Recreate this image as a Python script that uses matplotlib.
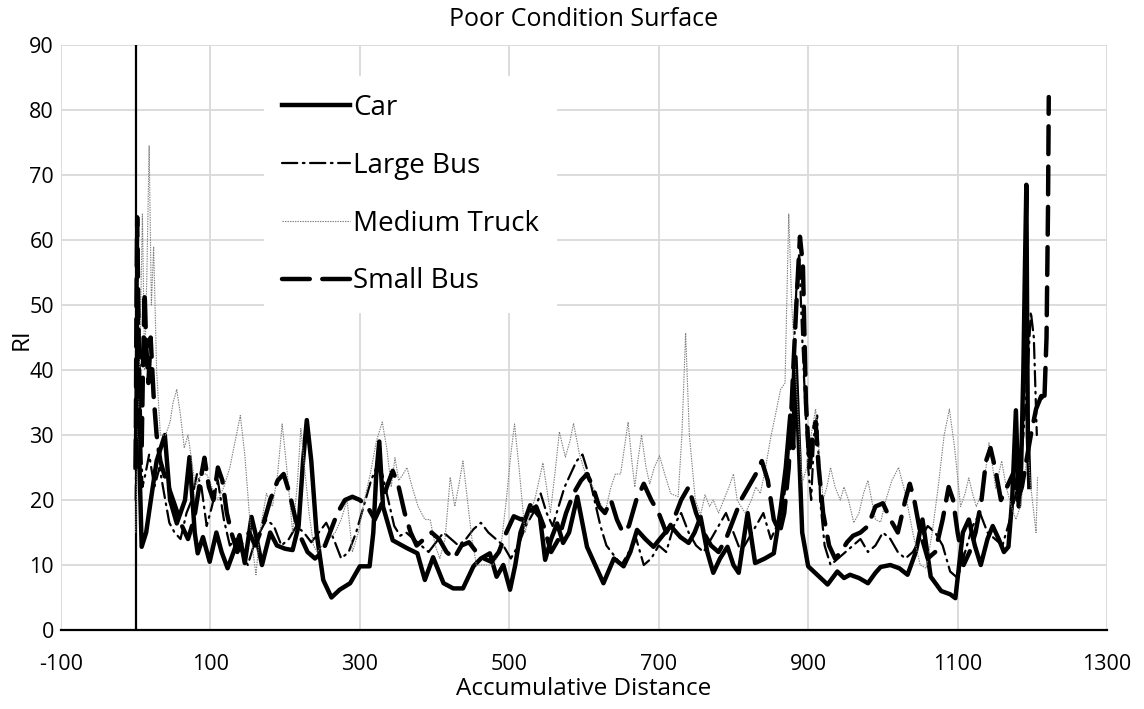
import matplotlib.pyplot as plt

plt.rcParams['font.family'] = ['Open Sans', 'DejaVu Sans']
plt.rcParams['lines.scale_dashes'] = False
plt.rcParams['axes.unicode_minus'] = False

# series (accumulative distance, RI)
car_x = [0, 2, 4, 8, 14, 19, 28, 39, 46, 55,
         66, 72, 79, 83, 90, 99, 108, 115, 123, 131,
         139, 146, 155, 162, 169, 180, 189, 200, 210, 218,
         224, 229, 235, 242, 251, 262, 273, 287, 300, 313,
         318, 322, 326, 331, 344, 363, 377, 387, 398, 405,
         412, 425, 438, 452, 462, 474, 483, 492, 501, 508,
         515, 528, 541, 548, 556, 564, 572, 580, 591, 604,
         615, 626, 640, 653, 662, 671, 682, 693, 705, 716,
         729, 740, 748, 756, 765, 773, 782, 792, 800, 807,
         819, 829, 842, 854, 863, 870, 876, 880, 883, 887,
         892, 900, 912, 926, 939, 948, 956, 968, 980, 990,
         997, 1010, 1022, 1033, 1044, 1053, 1064, 1078, 1090, 1097,
         1107, 1115, 1123, 1131, 1140, 1147, 1155, 1162, 1168, 1173,
         1178, 1182, 1185, 1188, 1190, 1192, 1194, 1196]
car_y = [25, 43, 30, 12.8, 15, 19, 26, 30, 20, 16.4,
         20, 26.6, 15, 11.8, 14.3, 10.5, 15, 12, 9.5, 12,
         14.6, 10.3, 17.4, 14, 10, 15, 13, 12.5, 12.3, 16,
         26, 32.3, 26, 15, 7.7, 5, 6.2, 7.2, 9.8, 9.8,
         15, 24, 29, 19, 13.8, 12.6, 11.8, 7.7, 11.2, 9.2,
         7.2, 6.4, 6.4, 9.8, 11, 11.8, 8.2, 10, 6.2, 10,
         15, 19.2, 17.4, 10.8, 14, 16.4, 13.4, 15, 20.5, 12.8,
         10, 7.2, 11, 9.8, 12, 15.4, 14, 12.8, 14.5, 16,
         14.3, 13.4, 15, 17.4, 12, 8.8, 11, 12.8, 10, 8.8,
         18, 10.3, 11, 11.8, 18.5, 25, 33, 28, 42, 30,
         15, 9.8, 8.5, 7, 9, 8, 8.5, 8, 7.2, 8.8,
         9.7, 10, 9.5, 8.5, 12, 17, 8.2, 6, 5.5, 4.9,
         15, 17, 13, 10, 14, 16, 14, 12, 12.8, 20,
         33.8, 19, 25, 40, 55, 68.5, 30, 22]

lbus_x = [0, 2, 4, 6, 9, 13, 18, 25, 32, 38,
          45, 52, 60, 68, 75, 82, 88, 95, 102, 110,
          118, 126, 134, 142, 150, 158, 166, 175, 185, 195,
          205, 215, 225, 235, 245, 255, 265, 275, 285, 295,
          305, 315, 322, 330, 338, 346, 354, 362, 372, 382,
          392, 402, 412, 422, 432, 442, 452, 462, 472, 482,
          492, 502, 512, 522, 532, 542, 550, 558, 566, 574,
          582, 590, 598, 606, 614, 622, 630, 640, 650, 660,
          670, 680, 690, 700, 710, 720, 730, 740, 750, 760,
          770, 780, 790, 800, 810, 820, 830, 840, 850, 858,
          866, 872, 878, 884, 888, 892, 896, 900, 904, 908,
          912, 916, 922, 930, 940, 950, 960, 970, 980, 990,
          1000, 1010, 1020, 1030, 1040, 1050, 1060, 1070, 1080, 1090,
          1100, 1110, 1120, 1130, 1140, 1150, 1160, 1170, 1180, 1188,
          1194, 1198, 1202, 1206]
lbus_y = [20, 40, 52, 35, 22, 24, 27, 22, 25, 21,
          16.5, 15, 14, 18, 20, 24, 22, 16, 19, 23,
          17, 13, 14, 12, 10, 13, 15, 17, 16, 13,
          14, 16, 15, 13.5, 15, 16.5, 14, 11, 12, 15,
          19, 23, 25, 24, 20, 16, 14.5, 15, 14, 13,
          12, 13.5, 15, 14, 13, 14, 15.5, 16.5, 15, 14,
          13, 11, 13, 16, 18, 21, 18, 16, 19, 22,
          24, 26, 27, 24, 20, 16, 13, 11.5, 10, 12,
          14, 10, 11, 13, 12, 16, 18, 15, 13, 12,
          14, 16, 18, 15, 12, 14, 16, 18, 14, 16,
          19, 24, 35, 52, 58, 45, 35, 25, 20, 30,
          33, 20, 13, 10, 11, 12, 13, 14, 12, 13,
          15, 14, 12, 11, 12, 14, 16, 15, 13, 9,
          8, 12, 16, 18, 15, 14, 13, 17, 22, 30,
          40, 49, 45, 30]

truck_x = [0, 3, 6, 9, 12, 15, 18, 21, 24, 28,
           33, 40, 46, 50, 55, 60, 65, 70, 75, 80,
           88, 95, 102, 110, 118, 126, 133, 140, 146, 152,
           157, 161, 166, 175, 183, 190, 196, 203, 210, 216,
           221, 226, 232, 238, 243, 250, 258, 267, 275, 283,
           290, 298, 306, 314, 322, 330, 336, 342, 347, 352,
           358, 363, 370, 378, 387, 394, 401, 407, 414, 421,
           427, 432, 438, 444, 450, 456, 466, 478, 488, 496,
           502, 507, 513, 521, 528, 535, 545, 555, 561, 567,
           575, 581, 586, 594, 602, 612, 620, 628, 636, 642,
           649, 654, 659, 664, 668, 672, 677, 683, 688, 694,
           701, 708, 716, 726, 731, 736, 741, 749, 756, 762,
           768, 773, 780, 787, 794, 800, 805, 810, 816, 824,
           830, 836, 843, 850, 856, 863, 869, 874, 878, 883,
           888, 892, 898, 904, 910, 915, 920, 925, 930, 936,
           943, 948, 954, 961, 968, 974, 980, 985, 990, 997,
           1004, 1012, 1021, 1030, 1040, 1050, 1058, 1066, 1074, 1082,
           1089, 1096, 1104, 1110, 1115, 1120, 1125, 1132, 1138, 1142,
           1147, 1151, 1155, 1159, 1165, 1172, 1178, 1184, 1190, 1194,
           1198, 1202, 1205, 1207]
truck_y = [15, 30, 45, 64, 40, 55, 74.5, 50, 59, 40,
           30, 30, 32, 35, 37, 33, 28, 30, 26, 22,
           24, 24, 22, 20, 22, 25, 29, 33, 27, 18,
           12, 8.5, 15, 21, 19, 24, 31.7, 24, 15, 22,
           31, 25, 18, 13, 12, 13, 14, 15, 17, 20,
           12, 15, 20, 24, 29, 32, 28, 22, 26.5, 23,
           24, 25, 22, 19, 17, 17, 13, 11, 14, 23.5,
           19, 22, 26, 20, 14, 10, 10, 10, 12, 20,
           27, 31.7, 25, 15, 18, 20.5, 25.7, 18, 24, 30.5,
           26.6, 29, 31.8, 27, 24, 22, 20, 18, 22, 24,
           24, 28, 32, 26, 22, 26, 30, 25, 22.5, 25,
           26.8, 24, 21, 20.5, 30, 45.7, 30, 20, 17.7, 20.8,
           19, 20, 18, 20, 22, 24, 20, 19, 18, 20,
           22, 21, 25, 29.7, 33, 37, 38, 64, 50, 40,
           30, 22.6, 25, 30, 34, 27, 20, 22, 25, 22,
           20, 22, 20, 16.5, 18, 21, 23, 20, 17, 16.6,
           20, 23, 25, 21, 15, 10, 9.5, 15, 22, 30,
           34, 28, 19, 21, 23.4, 21, 19, 21, 25, 28.8,
           25, 21.8, 24, 26, 22, 19, 17, 19, 24, 27.7,
           22, 18, 15, 23.5]

sbus_x = [0, 1, 2, 4, 6, 8, 10, 12, 14, 17,
          20, 24, 28, 33, 38, 44, 50, 56, 62, 70,
          78, 85, 92, 98, 104, 110, 116, 122, 128, 136,
          144, 152, 160, 170, 180, 190, 198, 206, 214, 222,
          230, 240, 250, 260, 270, 280, 290, 300, 310, 320,
          328, 336, 344, 352, 360, 368, 376, 386, 396, 406,
          416, 426, 436, 446, 456, 466, 476, 486, 496, 506,
          516, 526, 536, 546, 556, 566, 576, 586, 596, 604,
          612, 620, 628, 636, 644, 652, 660, 670, 680, 690,
          700, 710, 720, 730, 740, 750, 760, 770, 780, 790,
          800, 810, 820, 830, 838, 846, 854, 862, 868, 874,
          880, 885, 889, 893, 897, 902, 906, 910, 914, 920,
          928, 936, 944, 952, 960, 970, 980, 990, 1000, 1010,
          1020, 1030, 1036, 1042, 1050, 1060, 1070, 1080, 1088, 1094,
          1100, 1108, 1116, 1124, 1132, 1138, 1144, 1150, 1158, 1166,
          1174, 1180, 1186, 1192, 1198, 1205, 1212, 1216, 1219, 1221,
          1222]
sbus_y = [25, 50, 63.5, 45, 30, 28, 42, 52, 44, 38,
          45, 36, 30, 26, 24, 22, 20, 18, 16, 14,
          17, 22, 26.5, 22, 20, 25, 23, 18, 15, 12,
          14, 15, 13, 16, 20, 23, 24, 21, 17, 14,
          12, 11, 12, 15, 18, 20, 20.5, 20, 19, 17,
          19, 22, 24.5, 22, 18, 15, 13, 14, 15, 14,
          12, 11, 13, 13.5, 12, 11, 10.5, 12, 15, 17.5,
          17, 18, 19, 16, 12, 14, 18, 21, 23, 24,
          22, 19, 18, 20, 17, 15, 16, 20, 22.5, 20,
          18, 15, 17, 20, 22, 18, 15, 13, 12, 14,
          17, 20, 22, 24, 26, 23, 17, 15, 18, 25,
          40, 52, 60.5, 56, 35, 25, 30, 32, 25, 18,
          13, 11, 12, 13.5, 14.5, 15, 16, 19, 19.5, 17,
          15, 20, 22.5, 20, 15, 11, 12, 17, 22, 20,
          15, 10, 12, 15, 20, 26, 28, 25, 20, 22,
          24, 20, 22, 26, 30, 34, 36, 35, 45, 65,
          82]

x_ticks = list(range(-100, 1301, 200))
y_ticks = list(range(0, 91, 10))

fig, ax = plt.subplots(figsize=(11.44, 7.09), dpi=100)
fig.subplots_adjust(left=0.0533, right=0.9677, top=0.9365, bottom=0.1114)

ax.plot(car_x, car_y, color='black', lw=3.2, solid_joinstyle='round',
        label='Car')
ax.plot(lbus_x, lbus_y, color='black', lw=1.6, linestyle=(0, (11, 4, 1.2, 4)),
        dash_capstyle='round', label='Large Bus')
ax.plot(truck_x, truck_y, color='#7f7f7f', lw=0.8, linestyle=(0, (1, 0.8)),
        label='Medium Truck')
ax.plot(sbus_x, sbus_y, color='black', lw=3.2, linestyle=(0, (20, 9)),
        dash_capstyle='round', label='Small Bus')

ax.set_xlim(-100, 1300)
ax.set_ylim(0, 90)
ax.set_xticks(x_ticks)
ax.set_yticks(y_ticks)
ax.grid(color='#d9d9d9', lw=1.3)
ax.set_axisbelow(True)
for s in ['top', 'right', 'left']:
    ax.spines[s].set_visible(False)
ax.spines['bottom'].set_linewidth(1.6)
ax.axvline(0, color='black', lw=1.6, zorder=1.5)
ax.tick_params(length=0, labelsize=15.5, labelcolor='#000000')
ax.tick_params(axis='x', pad=17)
ax.tick_params(axis='y', pad=5)

ax.set_title('Poor Condition Surface', fontsize=18, pad=14)
ax.set_xlabel('Accumulative Distance', fontsize=17.5, labelpad=2)
fig.text(22 / 1144, 1 - 339 / 709, 'RI', fontsize=17.5, rotation=90,
         ha='center', va='center')

leg = ax.legend(loc='upper left', bbox_to_anchor=(0.194, 0.947), borderaxespad=0,
                fontsize=20, frameon=True, fancybox=False, facecolor='white',
                edgecolor='none', framealpha=1, handlelength=2.45, handletextpad=0.1,
                labelspacing=1.07, borderpad=0.65)

fig.savefig('out.png', dpi=100)
